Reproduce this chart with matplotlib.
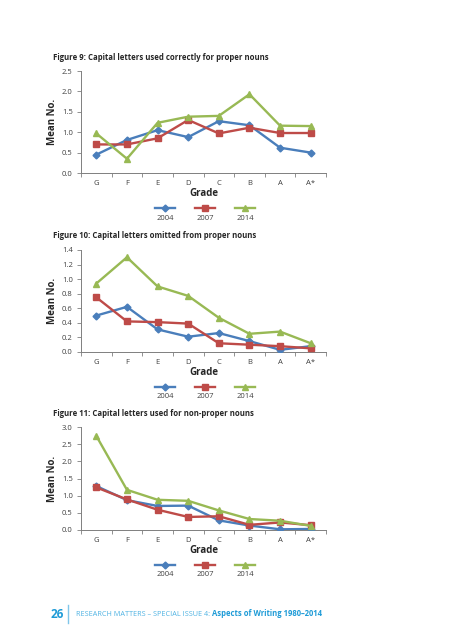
import matplotlib
matplotlib.use("Agg")
import matplotlib.pyplot as plt
from matplotlib.lines import Line2D
import numpy as np

plt.rcParams['font.family'] = ['Open Sans', 'DejaVu Sans']

grades = ["G", "F", "E", "D", "C", "B", "A", "A*"]
years = ["2004", "2007", "2014"]

# Figure 9
fig9_2004 = [0.45, 0.81, 1.05, 0.88, 1.27, 1.17, 0.62, 0.50]
fig9_2007 = [0.70, 0.70, 0.85, 1.30, 0.97, 1.11, 0.98, 0.98]
fig9_2014 = [0.97, 0.35, 1.23, 1.38, 1.40, 1.93, 1.16, 1.15]

# Figure 10
fig10_2004 = [0.50, 0.62, 0.31, 0.21, 0.26, 0.15, 0.03, 0.08]
fig10_2007 = [0.75, 0.42, 0.41, 0.39, 0.12, 0.10, 0.08, 0.05]
fig10_2014 = [0.94, 1.30, 0.90, 0.77, 0.47, 0.25, 0.28, 0.12]

# Figure 11
fig11_2004 = [1.28, 0.87, 0.70, 0.71, 0.28, 0.13, 0.02, 0.03]
fig11_2007 = [1.24, 0.89, 0.59, 0.38, 0.40, 0.15, 0.22, 0.14]
fig11_2014 = [2.74, 1.17, 0.88, 0.85, 0.57, 0.32, 0.27, 0.12]

couleurs = ["#4a7ebb", "#be4b48", "#98b954"]
marqueurs = ["D", "s", "^"]
tailles = [3.5, 4.0, 4.8]

W, H = 453, 640
fig = plt.figure(figsize=(W / 100, H / 100), dpi=100)
fig.patch.set_facecolor("white")

texte_gris = "#404040"


def px(x, y):
    # pixels (haut-gauche) -> coordonnees figure
    return x / W, 1 - y / H


def panneau(top, bottom, series, ymax, ystep, titre):
    left, right = 81, 326
    ax = fig.add_axes([left / W, 1 - bottom / H, (right - left) / W, (bottom - top) / H])
    x = np.arange(len(grades))
    for vals, c, m, s in zip(series, couleurs, marqueurs, tailles):
        ax.plot(x, vals, color=c, lw=1.7, marker=m, ms=s, mfc=c, mec=c, zorder=3)
    ax.set_xlim(-0.5, len(grades) - 0.5)
    ax.set_ylim(0, ymax)
    ax.set_yticks(np.arange(0, ymax + ystep / 2, ystep))
    ax.set_yticklabels([f"{v:.1f}" for v in np.arange(0, ymax + ystep / 2, ystep)])
    ax.set_xticks(x)
    ax.set_xticklabels(grades)
    ax.set_xticks(np.arange(-0.5, len(grades)), minor=True)
    ax.tick_params(axis="x", which="major", length=0, pad=5, labelsize=5.5, labelcolor=texte_gris)
    ax.tick_params(axis="x", which="minor", length=3, width=0.6, color="#7f7f7f")
    ax.tick_params(axis="y", length=3, width=0.6, color="#7f7f7f", pad=3, labelsize=5.5, labelcolor=texte_gris)
    for sp in ["top", "right"]:
        ax.spines[sp].set_visible(False)
    for sp in ["left", "bottom"]:
        ax.spines[sp].set_color("#7f7f7f")
        ax.spines[sp].set_linewidth(0.7)
    ax.set_ylabel("Mean No.", fontsize=7, fontweight="bold", color="#262626")
    ax.yaxis.set_label_coords(-0.095, 0.5)
    ax.set_xlabel("Grade", fontsize=7, fontweight="bold", color="#262626", labelpad=1)

    # titre
    tx, ty = px(53, top - 14)
    fig.text(tx, ty, titre, fontsize=5.6, fontweight="bold", color="#262626", va="center")

    # legende
    ly = bottom + 35
    for i, (c, m, s) in enumerate(zip(couleurs, marqueurs, tailles)):
        cx = 165 + 40 * i
        x0, y0 = px(cx - 10, ly)
        x1, _ = px(cx + 10, ly)
        fig.add_artist(Line2D([x0, x1], [y0, y0], color=c, lw=1.7, transform=fig.transFigure))
        fig.add_artist(Line2D([(x0 + x1) / 2], [y0], color=c, marker=m, ms=s, transform=fig.transFigure))
        lx, lyy = px(cx, ly + 10)
        fig.text(lx, lyy, years[i], fontsize=5.5, color=texte_gris, ha="center", va="center")
    return ax


panneau(71, 173, [fig9_2004, fig9_2007, fig9_2014], 2.5, 0.5,
        "Figure 9: Capital letters used correctly for proper nouns")
panneau(250, 352, [fig10_2004, fig10_2007, fig10_2014], 1.4, 0.2,
        "Figure 10: Capital letters omitted from proper nouns")
panneau(427, 530, [fig11_2004, fig11_2007, fig11_2014], 3.0, 0.5,
        "Figure 11: Capital letters used for non-proper nouns")

# pied de page
bleu = "#1e9bd7"
x, y = px(57, 614)
fig.text(x, y, "26", fontsize=8.5, fontweight="bold", color=bleu, ha="center", va="center")
x0, y0 = px(68, 605)
x1, y1 = px(68, 623)
fig.add_artist(Line2D([x0, x1], [y0, y1], color="#7fc6ea", lw=1.0, transform=fig.transFigure))
x, y = px(76, 614)
t = fig.text(x, y, "RESEARCH MATTERS – SPECIAL ISSUE 4: ", fontsize=5.2, color="#4fb3e3", va="center")
fig.canvas.draw()
bb = t.get_window_extent()
fig.text(bb.x1 / W, y, "Aspects of Writing 1980–2014", fontsize=5.5, fontweight="bold", color=bleu, va="center")

fig.savefig("out.png", dpi=100)
